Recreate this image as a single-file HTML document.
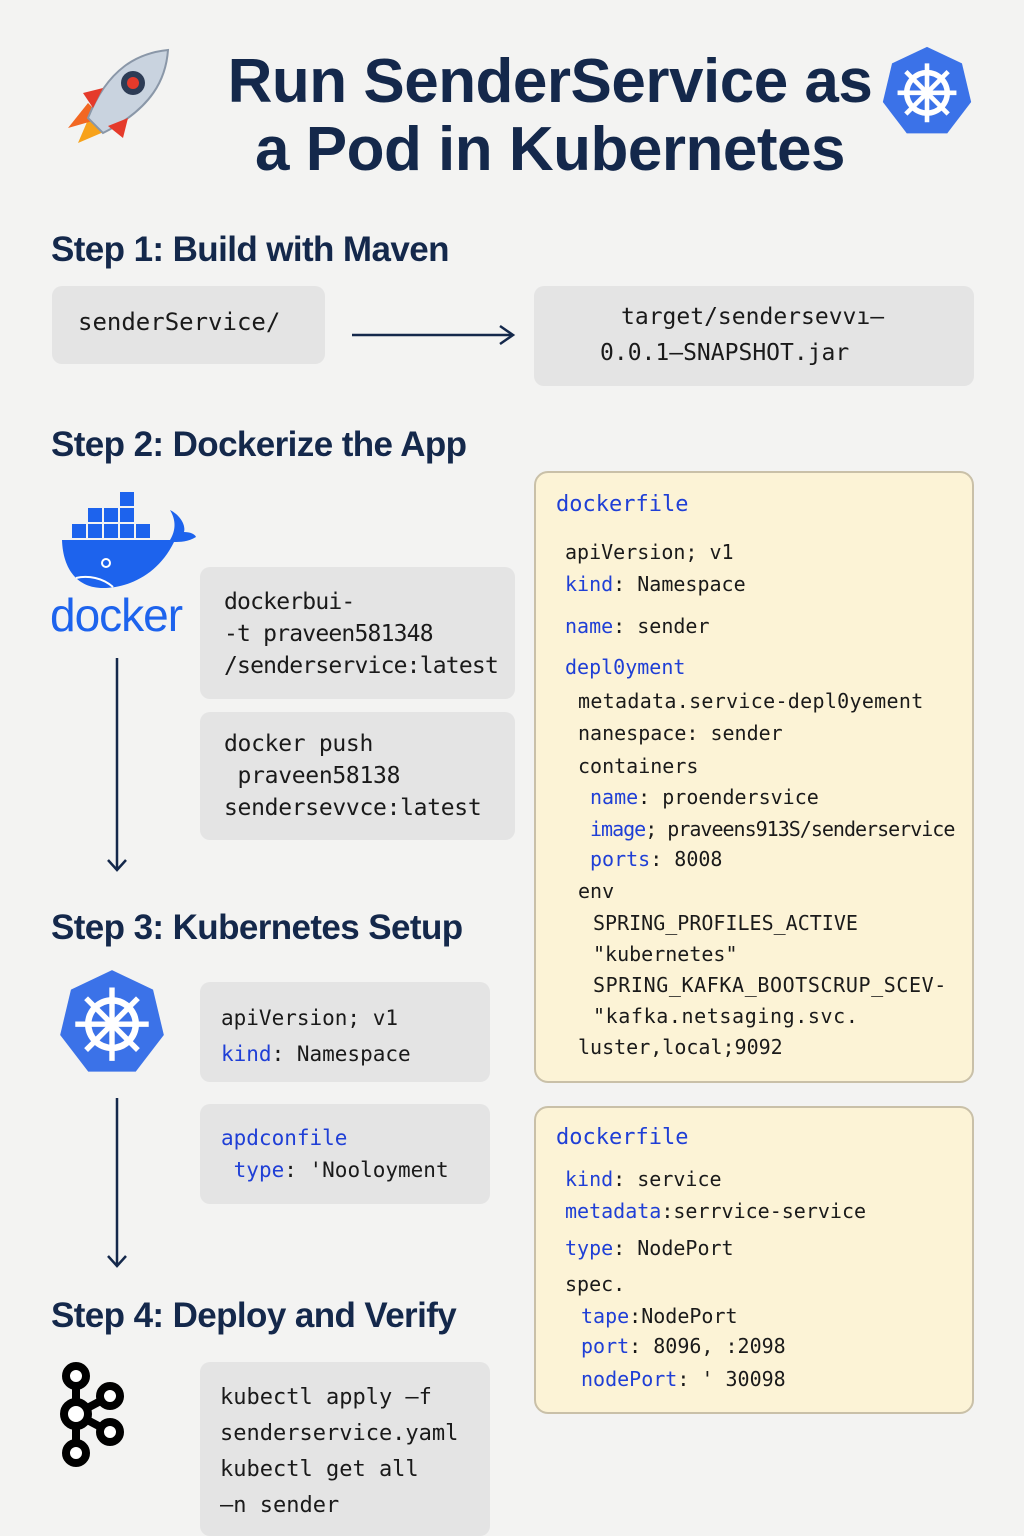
<!DOCTYPE html>
<html><head><meta charset="utf-8"><style>
*{margin:0;padding:0;box-sizing:border-box}
body{width:1024px;height:1536px;background:#f3f3f2;position:relative;overflow:hidden;font-family:"Liberation Sans",sans-serif;color:#12223f}
.a{position:absolute;white-space:nowrap}
h1{position:absolute;font-size:62px;font-weight:bold;color:#14284b;text-align:center;line-height:68px;letter-spacing:-0.5px}
.h{position:absolute;font-size:35px;font-weight:bold;color:#14284b;letter-spacing:-0.6px}
.box{position:absolute;background:#e4e4e4;border-radius:10px}
.m{font-family:"DejaVu Sans Mono","Liberation Mono",monospace;color:#1a1a1a}
.b{color:#1f3fd6}
.y{position:absolute;background:#fcf3d6;border:2px solid #c9c0a8;border-radius:14px}
</style></head><body>

<svg class="a" style="left:58px;top:48px" width="115" height="105" viewBox="0 0 115 105">
<path d="M20 95 L35 60 L55 80 Z" fill="#f7a21b"/>
<path d="M10 80 L30 55 L45 70 Z" fill="#f26722"/>
<path d="M30 70 C50 20 80 5 110 2 C108 30 95 60 45 85 Z" fill="#c9d3df" stroke="#8a97a8" stroke-width="2"/>
<circle cx="75" cy="35" r="12" fill="#2d3c55"/><circle cx="75" cy="35" r="6" fill="#e53a2b"/>
<path d="M25 45 L45 40 L35 60 Z" fill="#e53a2b"/><path d="M70 70 L65 90 L50 78 Z" fill="#e53a2b"/>
</svg>
<h1 style="left:190px;top:48px;width:720px">Run SenderService as<br>a Pod in Kubernetes</h1>
<svg class="a" style="left:880px;top:45px" width="94" height="92" viewBox="0 0 100 100">
<polygon points="50,2 88,20 98,62 72,96 28,96 2,62 12,20" fill="#3b72e8"/>
<circle cx="50" cy="52" r="22" stroke="#fff" stroke-width="6" fill="none"/>
<g stroke="#fff" stroke-width="5"><line x1="50" y1="20" x2="50" y2="84"/><line x1="18" y1="52" x2="82" y2="52"/><line x1="27" y1="29" x2="73" y2="75"/><line x1="73" y1="29" x2="27" y2="75"/></g>
<circle cx="50" cy="52" r="5" fill="#fff"/>
</svg>

<div class="h" style="left:51px;top:230px">Step 1: Build with Maven</div>
<div class="box" style="left:52px;top:286px;width:273px;height:78px"></div>
<div class="a m" style="left:78px;top:308px;font-size:24px">senderService/</div>
<svg class="a" style="left:350px;top:322px" width="170" height="26"><line x1="2" y1="13" x2="162" y2="13" stroke="#14284b" stroke-width="2.5"/><path d="M150 4 L163 13 L150 22" stroke="#14284b" stroke-width="2.5" fill="none"/></svg>
<div class="box" style="left:534px;top:286px;width:440px;height:100px"></div>
<div class="a m" style="left:621px;top:304px;font-size:23px">target/sendersevvı–</div>
<div class="a m" style="left:600px;top:340px;font-size:23px">0.0.1–SNAPSHOT.jar</div>

<div class="h" style="left:51px;top:425px">Step 2: Dockerize the App</div>
<svg class="a" style="left:58px;top:490px" width="140" height="100" viewBox="0 0 140 100">
<g fill="#1d63ed"><rect x="62" y="2" width="14" height="14"/><rect x="30" y="18" width="14" height="14"/><rect x="46" y="18" width="14" height="14"/><rect x="62" y="18" width="14" height="14"/><rect x="14" y="34" width="14" height="14"/><rect x="30" y="34" width="14" height="14"/><rect x="46" y="34" width="14" height="14"/><rect x="62" y="34" width="14" height="14"/><rect x="78" y="34" width="14" height="14"/>
<path d="M4 50 L112 50 C118 40 118 30 112 20 C122 25 128 35 126 42 C132 42 137 44 138 47 C130 52 122 52 116 52 C100 85 70 98 45 98 C20 98 5 80 4 50 Z"/></g>
<circle cx="48" cy="73" r="4" fill="none" stroke="#fff" stroke-width="2"/>
<path d="M18 88 C30 85 45 88 55 97" stroke="#fff" stroke-width="2" fill="none"/>
</svg>
<div class="a" style="left:50px;top:588px;font-size:46px;color:#1d63ed;letter-spacing:-1px">docker</div>
<div class="box" style="left:200px;top:567px;width:315px;height:132px"></div>
<div class="a m" style="left:224px;top:586px;font-size:23px;line-height:32px;letter-spacing:-0.8px">dockerbui-<br>-t praveen581348<br>/senderservice:latest</div>
<div class="box" style="left:200px;top:712px;width:315px;height:128px"></div>
<div class="a m" style="left:224px;top:728px;font-size:23px;line-height:32px;letter-spacing:-0.3px">docker push<br>&nbsp;praveen58138<br>sendersevvce:latest</div>
<svg class="a" style="left:105px;top:658px" width="26" height="216"><line x1="12" y1="0" x2="12" y2="212" stroke="#14284b" stroke-width="2.5"/><path d="M3 202 L12 212 L21 202" stroke="#14284b" stroke-width="2.5" fill="none"/></svg>

<div class="y" style="left:534px;top:471px;width:440px;height:612px"></div>
<div class="a m b" style="left:556px;top:492px;font-size:22px">dockerfile</div>
<div class="a m" style="left:565px;top:540px;font-size:20px">apiVersion;  v1</div>
<div class="a m" style="left:565px;top:572px;font-size:20px"><span class="b">kind</span>: Namespace</div>
<div class="a m" style="left:565px;top:614px;font-size:20px"><span class="b">name</span>: sender</div>
<div class="a m b" style="left:565px;top:655px;font-size:20px">depl0yment</div>
<div class="a m" style="left:578px;top:689px;font-size:20px;letter-spacing:0.3px">metadata.service-depl0yement</div>
<div class="a m" style="left:578px;top:721px;font-size:20px">nanespace:  sender</div>
<div class="a m" style="left:578px;top:754px;font-size:20px">containers</div>
<div class="a m" style="left:590px;top:785px;font-size:20px"><span class="b">name</span>:  proendersvice</div>
<div class="a m" style="left:590px;top:817px;font-size:20px;letter-spacing:-1px"><span class="b">image</span>; praveens913S/senderservice</div>
<div class="a m" style="left:590px;top:847px;font-size:20px"><span class="b">ports</span>: 8008</div>
<div class="a m" style="left:578px;top:879px;font-size:20px">env</div>
<div class="a m" style="left:593px;top:911px;font-size:20px">SPRING_PROFILES_ACTIVE</div>
<div class="a m" style="left:593px;top:942px;font-size:20px">"kubernetes"</div>
<div class="a m" style="left:593px;top:973px;font-size:20px;letter-spacing:0.6px">SPRING_KAFKA_BOOTSCRUP_SCEV-</div>
<div class="a m" style="left:593px;top:1004px;font-size:20px;letter-spacing:0.6px">"kafka.netsaging.svc.</div>
<div class="a m" style="left:578px;top:1035px;font-size:20px">luster,local;9092</div>

<div class="h" style="left:51px;top:908px">Step 3: Kubernetes Setup</div>
<svg class="a" style="left:55px;top:968px" width="114" height="108" viewBox="0 0 100 100">
<polygon points="50,2 88,20 98,62 72,96 28,96 2,62 12,20" fill="#3b72e8"/>
<circle cx="50" cy="52" r="22" stroke="#fff" stroke-width="6" fill="none"/>
<g stroke="#fff" stroke-width="5"><line x1="50" y1="18" x2="50" y2="86"/><line x1="16" y1="52" x2="84" y2="52"/><line x1="26" y1="28" x2="74" y2="76"/><line x1="74" y1="28" x2="26" y2="76"/></g>
<circle cx="50" cy="52" r="5" fill="#fff"/>
</svg>
<div class="box" style="left:200px;top:982px;width:290px;height:100px"></div>
<div class="a m" style="left:221px;top:1000px;font-size:21px;line-height:36px">apiVersion;  v1<br><span class="b">kind</span>: Namespace</div>
<div class="box" style="left:200px;top:1104px;width:290px;height:100px"></div>
<div class="a m" style="left:221px;top:1122px;font-size:21px;line-height:32px"><span class="b">apdconfile</span><br>&nbsp;<span class="b">type</span>: 'Nooloyment</div>
<svg class="a" style="left:105px;top:1098px" width="26" height="172"><line x1="12" y1="0" x2="12" y2="168" stroke="#14284b" stroke-width="2.5"/><path d="M3 158 L12 168 L21 158" stroke="#14284b" stroke-width="2.5" fill="none"/></svg>

<div class="y" style="left:534px;top:1106px;width:440px;height:308px"></div>
<div class="a m b" style="left:556px;top:1125px;font-size:22px">dockerfile</div>
<div class="a m" style="left:565px;top:1167px;font-size:20px"><span class="b">kind</span>: service</div>
<div class="a m" style="left:565px;top:1199px;font-size:20px"><span class="b">metadata</span>:serrvice-service</div>
<div class="a m" style="left:565px;top:1236px;font-size:20px"><span class="b">type</span>: NodePort</div>
<div class="a m" style="left:565px;top:1272px;font-size:20px">spec.</div>
<div class="a m" style="left:581px;top:1304px;font-size:20px"><span class="b">tape</span>:NodePort</div>
<div class="a m" style="left:581px;top:1334px;font-size:20px"><span class="b">port</span>: 8096, :2098</div>
<div class="a m" style="left:581px;top:1367px;font-size:20px"><span class="b">nodePort</span>: ' 30098</div>

<div class="h" style="left:51px;top:1296px">Step 4: Deploy and Verify</div>
<svg class="a" style="left:58px;top:1362px" width="70" height="106" viewBox="0 0 70 106">
<g stroke="#000" stroke-width="8" fill="none"><line x1="18" y1="14" x2="18" y2="90"/><line x1="18" y1="52" x2="52" y2="34"/><line x1="18" y1="52" x2="52" y2="70"/>
<circle cx="18" cy="14" r="10" fill="#fff"/><circle cx="18" cy="52" r="12" fill="#fff"/><circle cx="18" cy="91" r="10" fill="#fff"/><circle cx="52" cy="34" r="10" fill="#fff"/><circle cx="52" cy="70" r="10" fill="#fff"/></g>
</svg>
<div class="box" style="left:200px;top:1362px;width:290px;height:174px"></div>
<div class="a m" style="left:220px;top:1380px;font-size:22px;line-height:36px">kubectl apply –f<br>senderservice.yaml<br>kubectl get all<br>–n sender</div>
</body></html>
